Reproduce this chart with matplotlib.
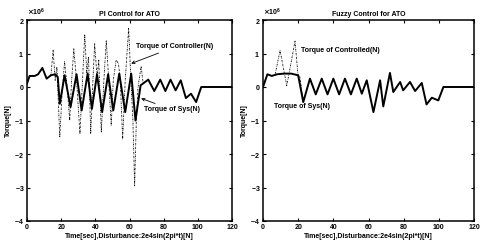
import matplotlib
matplotlib.use("Agg")
import matplotlib.pyplot as plt
import numpy as np

plt.rcParams['font.family'] = ['Liberation Sans', 'DejaVu Sans']
plt.rcParams['font.weight'] = 'bold'

SCALE = 1e6

# PI control: torque of the system (x 10^6 N)
pi_sys_t = [0, 1.5, 4.5, 6.5, 9, 11.5, 14, 16.5, 18, 19.2, 22, 25.5, 29, 32, 35.5, 38,
            41, 44, 47.5, 50.5, 54, 57.5, 61, 63.5, 66.5, 71, 74.5, 78, 81, 84, 87,
            90, 93, 96, 99, 102, 120]
pi_sys_v = [0.1, 0.33, 0.33, 0.38, 0.57, 0.25, 0.35, 0.38, 0.3, -0.5, 0.35, -0.6, 0.38,
            -0.7, 0.4, -0.65, 0.38, -0.75, 0.38, -0.7, 0.4, -0.75, 0.4, -1.0, 0.05,
            0.22, -0.12, 0.22, -0.12, 0.22, -0.1, 0.2, -0.33, -0.2, -0.45, 0.0, 0.0]

# PI control: torque of the controller
pi_ctrl_t = [14, 15.3, 16.5, 17.5, 19.2, 20.5, 22, 23.5, 25, 26, 27.4, 29, 31, 32.3,
             33.8, 35, 36, 37.3, 38.5, 39.6, 41, 42, 43.5, 45, 46.4, 47.5, 49.3, 50.5,
             52.2, 53.5, 54.5, 56, 57.5, 59.5, 61, 62, 63, 64, 65, 66.8, 68]
pi_ctrl_v = [0.35, 1.1, 0.2, 0.6, -1.5, -0.2, 0.76, 0.0, -1.0, 0.1, 1.14, 0.2, -1.4, 0.0,
             1.57, 0.4, 0.9, -1.4, 0.1, 1.29, 0.3, 0.8, -1.35, 0.2, 1.38, 0.5, -1.15, 0.2,
             0.81, 0.7, 0.3, -1.55, 0.2, 1.75, 0.0, -1.0, -2.95, -1.0, 0.0, 0.62, 0.1]

# Fuzzy control: torque of the system
fz_sys_t = [0, 2.5, 5, 8, 12, 16, 20, 22.9, 26.7, 30, 33.4, 36.7, 40, 43.3, 46.6, 50,
            53.3, 56.2, 59, 62.8, 66.6, 68.4, 72.2, 74.1, 78, 79.7, 83.6, 86.5, 90.3,
            93, 96, 99.7, 102.6, 120]
fz_sys_v = [0.0, 0.38, 0.33, 0.38, 0.4, 0.4, 0.35, -0.45, 0.25, -0.22, 0.25, -0.22, 0.25,
            -0.22, 0.25, -0.22, 0.25, -0.2, 0.2, -0.75, 0.2, -0.58, 0.42, -0.15, 0.15,
            -0.1, 0.15, -0.12, 0.12, -0.52, -0.32, -0.4, 0.0, 0.0]

# Fuzzy control: torque of the controller
fz_ctrl_t = [7, 9.7, 13.5, 15, 18.2, 20, 21, 22.9]
fz_ctrl_v = [0.4, 1.09, 0.04, 0.45, 1.37, 0.3, 0.3, -0.45]

xticks = [0, 20, 40, 60, 80, 100, 120]
yticks = [-4, -3, -2, -1, 0, 1, 2]
xlabel = 'Time[sec],Disturbance:2e4sin(2pi*t)[N]'

fig = plt.figure(figsize=(4.82, 2.44), dpi=100)
ax1 = fig.add_axes([27/482, 23/244, 205/482, 201/244])
ax2 = fig.add_axes([263/482, 23/244, 211/482, 201/244])

ctrl_style = dict(color='black', linewidth=0.6, linestyle=(0, (2, 1.2, 0.6, 1.2)))
sys_style = dict(color='black', linewidth=1.4)

ax1.plot(pi_ctrl_t, np.array(pi_ctrl_v) * SCALE, **ctrl_style)
ax1.plot(pi_sys_t, np.array(pi_sys_v) * SCALE, **sys_style)
ax2.plot(fz_ctrl_t, np.array(fz_ctrl_v) * SCALE, **ctrl_style)
ax2.plot(fz_sys_t, np.array(fz_sys_v) * SCALE, **sys_style)

for ax, title in [(ax1, 'PI Control for ATO'), (ax2, 'Fuzzy Control for ATO')]:
    ax.set_xlim(0, 120)
    ax.set_ylim(-4 * SCALE, 2 * SCALE)
    ax.set_xticks(xticks)
    ax.set_yticks([v * SCALE for v in yticks])
    ax.ticklabel_format(axis='y', style='sci', scilimits=(6, 6), useMathText=True)
    ax.yaxis.get_offset_text().set_fontsize(5)
    ax.tick_params(direction='in', top=True, right=True, length=2, width=0.8,
                   labelsize=5, pad=2)
    for s in ax.spines.values():
        s.set_linewidth(1.1)
    ax.set_title(title, fontsize=5, fontweight='bold', pad=3)
    ax.set_xlabel(xlabel, fontsize=5, fontweight='bold', labelpad=1.5)
    ax.set_ylabel('Torque[N]', fontsize=5, fontweight='bold', labelpad=2)

arrow = dict(arrowstyle='->', color='black', lw=0.6, shrinkA=0, shrinkB=0)
ax1.annotate('Torque of Controller(N)', xy=(61, 0.7 * SCALE), xytext=(64, 1.2 * SCALE),
             fontsize=5, fontweight='bold', va='center', ha='left', arrowprops=arrow)
ax1.annotate('Torque of Sys(N)', xy=(66.8, -0.34 * SCALE), xytext=(68.7, -0.68 * SCALE),
             fontsize=5, fontweight='bold', va='center', ha='left', arrowprops=arrow)
ax2.text(21.6, 1.1 * SCALE, 'Torque of Controlled(N)', fontsize=5, fontweight='bold',
         va='center', ha='left')
ax2.text(6.4, -0.58 * SCALE, 'Torque of Sys(N)', fontsize=5, fontweight='bold',
         va='center', ha='left')

fig.savefig('out.png', dpi=100)
